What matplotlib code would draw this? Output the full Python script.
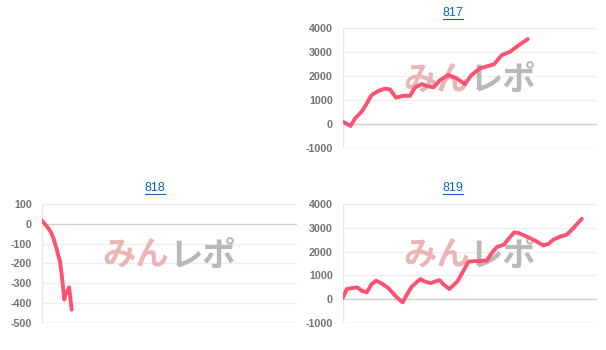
import matplotlib
matplotlib.use("Agg")
import matplotlib.pyplot as plt
from matplotlib.lines import Line2D

# ---- data ----
titles = ["817", "818", "819"]

games_817 = [0, 250, 390, 600, 730, 910, 1120, 1330, 1490, 1680, 1910, 2120, 2280, 2490,
             2650, 2860, 3070, 3330, 3590, 3850, 4060, 4330, 4590, 4770, 5010, 5270, 5530, 5830]
diff_817 = [100, -80, 240, 520, 800, 1210, 1380, 1480, 1450, 1100, 1180, 1180, 1530, 1670,
            1590, 1530, 1840, 2050, 1910, 1670, 2050, 2330, 2430, 2500, 2880, 3020, 3280, 3550]

games_818 = [0, 157, 282, 366, 471, 575, 627, 711, 750, 784, 858, 941]
diff_818 = [17, -12, -40, -71, -130, -192, -256, -383, -345, -350, -321, -434]

games_819 = [0, 130, 280, 460, 600, 760, 910, 1050, 1230, 1440, 1700, 1890, 2020, 2170,
             2440, 2590, 2770, 2910, 3050, 3190, 3360, 3490, 3610, 3800, 3960, 4120, 4330,
             4540, 4660, 4850, 5080, 5250, 5400, 5530, 5800, 6060, 6320, 6480, 6640, 6850,
             7060, 7270, 7530]
diff_819 = [40, 420, 460, 490, 350, 280, 630, 770, 655, 460, 70, -140, 180, 515, 840, 740,
            670, 740, 795, 600, 420, 585, 740, 1185, 1575, 1600, 1600, 1630, 1880, 2190,
            2300, 2580, 2815, 2790, 2635, 2465, 2260, 2330, 2510, 2635, 2720, 3000, 3390]

ticks_big = [-1000, 0, 1000, 2000, 3000, 4000]
ticks_small = [-500, -400, -300, -200, -100, 0, 100]
x_max = 8000

# ---- style ----
W, H = 606, 350
LINE = "#fd5270"
LINK = "#0a66c2"
LABEL = "#737373"

fig = plt.figure(figsize=(W / 100, H / 100), dpi=100)
fig.patch.set_facecolor("white")


def px_axes(l, t, r, b):
    return fig.add_axes([l / W, 1 - b / H, (r - l) / W, (b - t) / H])


panels = [
    (titles[0], games_817, diff_817, ticks_big, (342.7, 28.3, 596.7, 148.0), (453, 13)),
    (titles[1], games_818, diff_818, ticks_small, (41.7, 204.0, 296.7, 322.7), (155, 188)),
    (titles[2], games_819, diff_819, ticks_big, (342.7, 204.3, 596.7, 322.7), (453, 188)),
]

title_texts = []
for title, xs, ys, ticks, box, tpos in panels:
    ax = px_axes(*box)
    ax.set_facecolor("white")
    ax.set_xlim(0, x_max)
    ax.set_ylim(ticks[0], ticks[-1])
    ax.set_yticks(ticks)
    ax.set_yticklabels([str(t) for t in ticks])
    ax.set_xticks([])
    for s in ax.spines.values():
        s.set_visible(False)
    ax.tick_params(axis="y", length=0, pad=7.0, labelsize=7.7, labelcolor=LABEL)
    for lab in ax.get_yticklabels():
        lab.set_fontfamily("Liberation Sans")
        lab.set_fontweight("bold")
    for t in ticks:
        if t == 0 or t == ticks[0]:
            c = "#cfcfcf"
        else:
            c = "#eeeeee"
        ax.axhline(t, color=c, lw=1.0, zorder=1)
    ax.axvline(0, color="#e8e8e8", lw=1.0, zorder=1)

    # watermark
    ax.text(0.5, 0.56, "みん", transform=ax.transAxes, ha="right", va="center",
            fontsize=24, fontweight="bold", color="#ecb5b5",
            family=["Noto Sans CJK JP", "DejaVu Sans"], zorder=2)
    ax.text(0.5, 0.56, "レポ", transform=ax.transAxes, ha="left", va="center",
            fontsize=24, fontweight="bold", color="#b8b8b8",
            family=["Noto Sans CJK JP", "DejaVu Sans"], zorder=2)

    ax.plot(xs, ys, color=LINE, lw=2.8, solid_capstyle="round",
            solid_joinstyle="round", zorder=3)

    tt = fig.text(tpos[0] / W, 1 - tpos[1] / H, title, ha="center", va="center",
                  fontsize=9, color=LINK, family="Liberation Sans")
    title_texts.append(tt)

# underline the link titles
fig.canvas.draw()
renderer = fig.canvas.get_renderer()
for tt in title_texts:
    bb = tt.get_window_extent(renderer=renderer)
    y = bb.y0 + 0.5
    fig.add_artist(Line2D([bb.x0 / W, bb.x1 / W], [y / H, y / H],
                          transform=fig.transFigure, color=LINK, lw=0.8))

fig.savefig("out.png", dpi=100, facecolor="white")
